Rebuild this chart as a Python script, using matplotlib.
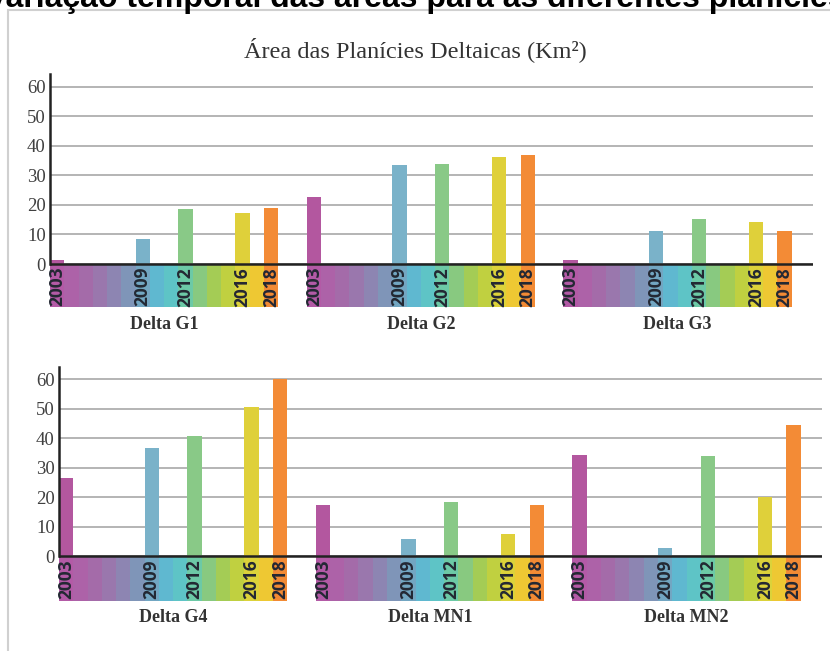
import matplotlib.pyplot as plt
from matplotlib.patches import Rectangle

# data
years = [2003, 2009, 2012, 2016, 2018]
deltas_top = ["Delta G1", "Delta G2", "Delta G3"]
deltas_bottom = ["Delta G4", "Delta MN1", "Delta MN2"]
g1 = [1.4, 8.4, 18.7, 17.1, 19.1]
g2 = [22.8, 33.6, 33.9, 36.1, 36.9]
g3 = [1.2, 11.1, 15.1, 14.3, 11.3]
g4 = [26.6, 36.9, 40.8, 50.8, 60.1]
mn1 = [17.6, 5.9, 18.5, 7.6, 17.6]
mn2 = [34.5, 2.9, 34.1, 20.0, 44.4]
yticks = [0, 10, 20, 30, 40, 50, 60]

bar_colors = ["#b3579f", "#7ab2c9", "#89c987", "#dfd03a", "#f38b36"]
# rainbow strip under the axis, one stripe per year 2003..2018
strip_years = list(range(2003, 2019))
strip_colors = ["#b35aa6", "#ad62a8", "#a46ba9", "#9a77ad", "#8d85b2", "#7f95b8",
                "#72a6c2", "#5fb8d0", "#5ec4c6", "#6cc9a6", "#88c980", "#a4cc55",
                "#c0d040", "#dcd23a", "#eec833", "#f28a34"]

serif = "Liberation Serif"
GAP = 18  # years between group starts


def panel(ax, names, series, ylim):
    ax.set_xlim(0, 53.5)
    ax.set_ylim(*ylim)
    ax.set_axisbelow(True)
    ax.yaxis.grid(True, color="#a8a8a8", lw=1.2)
    for i, (name, vals) in enumerate(zip(names, series)):
        x0 = i * GAP
        # strip
        ax.bar([x0 + (y - 2003) for y in strip_years], [ylim[0]] * len(strip_years),
               width=1, align="edge", color=strip_colors, zorder=2)
        ax.bar([x0 + (y - 2003) for y in years], vals, width=1, align="edge",
               color=bar_colors, zorder=2)
        for y in years:
            ax.text(x0 + (y - 2003) + 0.5, -1.0, str(y), rotation=90, ha="center",
                    va="top", fontsize=12.5, fontweight="bold", family="Open Sans",
                    color="#232833", zorder=4)
        ax.text(x0 + 8, ylim[0] - 5.8, name, ha="center", va="center",
                fontsize=13, fontweight="bold", family=serif, color="#333333")
    ax.axhline(0, color="#222222", lw=1.8, zorder=3)
    for s in ["top", "right", "bottom"]:
        ax.spines[s].set_visible(False)
    ax.spines["left"].set_bounds(0, ylim[1])
    ax.spines["left"].set_linewidth(1.8)
    ax.spines["left"].set_color("#222222")
    ax.spines["left"].set_zorder(5)
    ax.set_xticks([])
    ax.set_yticks(yticks)
    ax.tick_params(axis="y", length=0, pad=3, labelsize=13.5, labelcolor="#404040")
    for lab in ax.get_yticklabels():
        lab.set_family(serif)


fig = plt.figure(figsize=(8.3, 6.51), dpi=100)

fig.patches.append(Rectangle((8 / 830, -0.1), 1.2, 1.1 - 10 / 651,
                             transform=fig.transFigure, fill=False,
                             edgecolor="#d0d0d0", lw=1.5))
# heading is cut by the top edge in the reference
fig.text(-14 / 830, 1 - 6.5 / 651, "Variação temporal das áreas para as diferentes planícies",
         ha="left", va="baseline", fontsize=23, fontweight="bold",
         family="Liberation Sans", color="black")
fig.text(415 / 830, 1 - 50 / 651, "Área das Planícies Deltaicas (Km²)",
         ha="center", va="center", fontsize=17.5, family=serif, color="#333333")

ax1 = fig.add_axes([50 / 830, 1 - 307 / 651, 763 / 830, 233 / 651])
panel(ax1, deltas_top, [g1, g2, g3], (-14.55, 64.3))

ax2 = fig.add_axes([59 / 830, 1 - 600.7 / 651, 763 / 830, 234 / 651])
panel(ax2, deltas_bottom, [g4, mn1, mn2], (-15, 64.3))

fig.savefig("out.png", dpi=100)
